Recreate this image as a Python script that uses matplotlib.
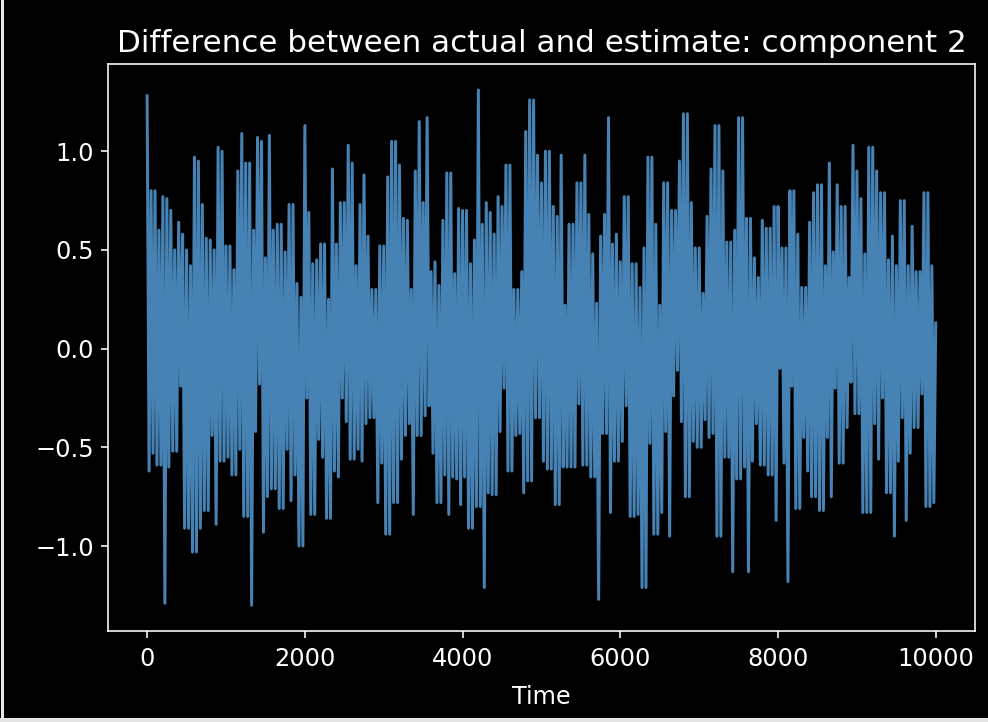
import matplotlib
matplotlib.use("Agg")
import matplotlib.pyplot as plt
from matplotlib.lines import Line2D
import numpy as np

# upper peaks read every 50 time steps (t = 0, 50, ..., 9950)
upper_peaks = [
    1.28, 0.80, 0.80, 0.60, 0.77, 0.76, 0.70, 0.50, 0.64, 0.58, 0.50, 0.42, 0.97, 0.95, 0.73, 0.56,
    0.55, 0.50, 1.02, 1.00, 0.52, 0.52, 0.40, 0.90, 1.09, 0.94, 0.94, 0.60, 1.07, 1.05, 0.46, 1.08,
    0.60, 0.63, 0.63, 0.49, 0.73, 0.73, 0.33, 0.26, 1.13, 0.69, 0.43, 0.45, 0.53, 0.53, 0.25, 0.91,
    0.53, 0.74, 0.74, 1.03, 0.94, 0.42, 0.73, 0.88, 0.57, 0.30, 0.30, 0.52, 0.52, 0.87, 1.05, 1.05,
    0.93, 0.66,
    0.65, 0.30, 0.90, 1.15, 0.74, 1.17, 0.39, 0.44, 0.32, 0.65, 0.89, 0.89, 0.38, 0.71, 0.70, 0.70,
    0.43, 0.55, 1.31, 0.63, 0.74, 0.69, 0.58, 0.77, 0.72, 0.93, 0.93, 0.30, 0.30, 0.39, 1.10, 1.26,
    1.26, 0.98,
    0.84, 1.00, 1.00, 0.72, 0.67, 0.98, 0.22, 0.63, 0.63, 0.84, 0.84, 0.98, 0.68, 0.48, 0.23, 0.57,
    0.68, 1.17, 0.53, 0.58, 0.44, 0.77, 0.77, 0.43, 0.43, 0.31, 0.51, 0.97, 0.97, 0.63, 0.22, 0.84,
    0.84, 0.70, 0.70, 0.95, 1.19, 1.19, 0.74, 0.51, 0.51, 0.28, 0.67, 0.91, 1.13, 1.13, 0.90, 0.54,
    0.54, 0.60, 1.17, 1.17, 0.66, 0.66, 0.46, 0.36, 0.65, 0.61, 0.61, 0.72, 0.72, 0.51, 0.51, 0.80,
    0.80,
    0.58, 0.31, 0.31, 0.64, 0.79, 0.83, 0.83, 0.42, 0.94, 0.49, 0.83, 0.72, 0.72, 0.36, 1.03, 0.90,
    0.76, 0.48, 1.02, 1.02, 0.90, 0.79, 0.79, 0.45, 0.57, 0.42, 0.75, 0.75, 0.42, 0.62, 0.39, 0.39,
    0.79, 0.79, 0.42,
]

# lower troughs read every 50 time steps (t = 25, 75, ..., 9975)
lower_troughs = [
    -0.62, -0.53, -0.59, -0.59, -1.29, -0.60, -0.52, -0.52, -0.19, -0.91, -0.91, -1.03, -1.03, -0.91,
    -0.82, -0.82, -0.44, -0.89, -0.57, -0.57, -0.55, -0.64, -0.64, -0.51, -0.85, -0.85, -1.30, -0.42,
    -0.18, -0.93, -0.75, -0.71,
    -0.71, -0.81, -0.81, -0.51, -0.77, -0.64, -1.00, -1.00, -0.25, -0.84, -0.84, -0.46, -0.55, -0.86,
    -0.86, -0.62, -0.65, -0.25, -0.37, -0.56, -0.56, -0.51, -0.57, -0.38, -0.35, -0.35, -0.78, -0.58,
    -0.94, -0.94, -0.78, -0.78, -0.56, -0.44,
    -0.38, -0.84, -0.44, -0.44, -0.34, -0.29, -0.53, -0.78, -0.78, -0.64, -0.84, -0.65, -0.66, -0.79,
    -0.65, -0.91, -0.91, -0.80, -0.80, -1.21, -0.73, -0.74, -0.74, -0.42, -0.20, -0.62, -0.62, -0.44,
    -0.43, -0.73, -0.67, -0.67, -0.35, -0.35,
    -0.57, -0.61, -0.61, -0.79, -0.79, -0.60, -0.60, -0.60, -0.60, -0.28, -0.59, -0.59, -0.65, -0.65,
    -1.27, -0.43, -0.43, -0.83, -0.57, -0.57, -0.47, -0.29, -0.85, -0.85, -0.84, -1.21, -1.21, -0.48,
    -0.94, -0.94, -0.83, -0.42,
    -0.95, -0.24, -0.11, -0.37, -0.75, -0.75, -0.47, -0.50, -0.50, -0.36, -0.45, -0.43, -0.95, -0.95,
    -0.55, -0.55, -1.13, -0.66, -0.66, -0.60, -1.13, -0.57, -0.38, -0.59, -0.59, -0.64, -0.64, -0.87,
    -0.10, -0.58, -1.18, -0.19, -0.81,
    -0.81, -0.45, -0.62, -0.75, -0.75, -0.82, -0.82, -0.45, -0.75, -0.20, -0.58, -0.58, -0.40, -0.17,
    -0.33, -0.33, -0.83, -0.83, -0.83, -0.38, -0.56, -0.25, -0.73, -0.73, -0.95, -0.57, -0.35, -0.87,
    -0.53, -0.40, -0.40, -0.23, -0.80, -0.80, -0.78,
]

last_time = 9999
last_value = 0.13

# interleave peaks and troughs into one time series
upper_t = np.arange(len(upper_peaks)) * 50
lower_t = upper_t + 25
time = np.append(np.column_stack([upper_t, lower_t]).ravel(), last_time)
diff = np.append(np.column_stack([upper_peaks, lower_troughs]).ravel(), last_value)

plt.style.use("dark_background")
plt.rcParams["font.size"] = 12
fig, ax = plt.subplots(figsize=(988 / 144, 722 / 144), dpi=144)
fig.subplots_adjust(left=0.109, right=0.987, bottom=0.126, top=0.911)

ax.plot(time, diff, color="steelblue", linewidth=1.5)
ax.set_title("Difference between actual and estimate: component 2", fontsize=15.5)
ax.set_xlabel("Time", labelpad=7)
ax.tick_params(axis="x", pad=4.5)

# light screenshot edge on left and bottom
fig.add_artist(Line2D([0.002, 0.002], [0, 1], transform=fig.transFigure, color="#e6e6e6", linewidth=1.5))
fig.add_artist(Line2D([0, 1], [0.003, 0.003], transform=fig.transFigure, color="#e6e6e6", linewidth=2))

fig.savefig("out.png", dpi=144)
